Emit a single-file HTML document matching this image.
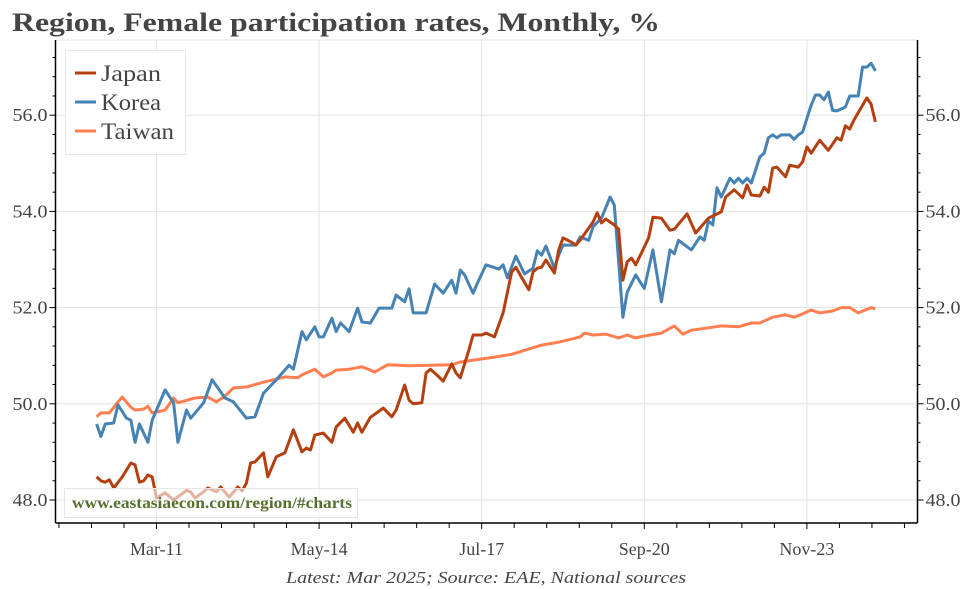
<!DOCTYPE html>
<html><head><meta charset="utf-8"><style>
body{margin:0;background:#fff;}
svg{display:block;font-family:"Liberation Serif",serif;}
</style></head><body>
<svg id="chart" width="972" height="589">
<text x="12" y="31" font-size="26" font-weight="bold" fill="#444" textLength="648" lengthAdjust="spacingAndGlyphs">Region, Female participation rates, Monthly, %</text>
<g id="grid"></g><g id="series"></g><g id="axes"></g>
<g>
<rect x="65.5" y="50.5" width="120" height="104" fill="#fff" stroke="#e8e8e8"/>
<g><line x1="75" y1="73" x2="96" y2="73" stroke="#b5400f" stroke-width="3"/><text x="101" y="81" font-size="23" fill="#444" textLength="60" lengthAdjust="spacingAndGlyphs">Japan</text></g>
<g><line x1="75" y1="102" x2="96" y2="102" stroke="#4682b4" stroke-width="3"/><text x="101" y="110" font-size="23" fill="#444" textLength="60" lengthAdjust="spacingAndGlyphs">Korea</text></g>
<g><line x1="75" y1="131" x2="96" y2="131" stroke="#ff7f50" stroke-width="3"/><text x="101" y="139" font-size="23" fill="#444" textLength="73" lengthAdjust="spacingAndGlyphs">Taiwan</text></g>
</g>
<g>
<rect x="64.5" y="488.5" width="293" height="29" fill="rgba(255,255,255,0.6)" stroke="#e6e6e6"/>
<text x="72" y="508" font-size="15.5" font-weight="bold" fill="#5a6e2e" textLength="280" lengthAdjust="spacingAndGlyphs">www.eastasiaecon.com/region/#charts</text>
</g>
<text x="486" y="583" text-anchor="middle" font-size="17" font-style="italic" fill="#444" textLength="400" lengthAdjust="spacingAndGlyphs">Latest: Mar 2025; Source: EAE, National sources</text>
</svg>
<script>
// months since Jan-2010
const japanMonths=[0,1,2,3,4,6,8,9,10,11,12,13,14,16,18,21,22,23,25,26,28,29,31,33,34,35,36,37,39,40,42,44,46,48,49,50,51,53,55,56,58,60,61,62,64,67,69,70,72,73,74,76,77,78,80,81,83,84,85,87,88,90,91,93,94,95,97,98,99,101,102,103,104,105,107,108,109,111,112,113,116,117,118,119,121,122,123,124,125,126,128,129,130,132,134,135,138,140,143,146,147,149,151,152,153,155,156,157,158,159,161,162,164,165,166,167,169,171,173,174,175,176,177,180,181,182];
const japanValues=[48.48,48.4,48.37,48.42,48.25,48.48,48.77,48.73,48.37,48.4,48.52,48.48,48.04,48.15,48.0,48.2,48.17,48.04,48.17,48.25,48.17,48.27,48.06,48.27,48.19,48.35,48.77,48.79,48.98,48.48,48.9,48.98,49.46,49.0,49.08,49.04,49.35,49.39,49.2,49.52,49.7,49.41,49.6,49.41,49.72,49.91,49.73,49.87,50.39,50.08,50.0,50.02,50.64,50.72,50.56,50.47,50.83,50.64,50.54,51.12,51.43,51.43,51.47,51.39,51.64,51.89,52.74,52.84,52.68,52.37,52.74,52.82,52.84,52.99,52.72,53.2,53.45,53.36,53.3,53.4,53.78,53.97,53.76,53.84,53.72,53.63,52.57,52.95,53.03,52.89,53.26,53.45,53.88,53.86,53.61,53.63,53.95,53.55,53.86,53.99,54.3,54.45,54.28,54.55,54.34,54.32,54.5,54.4,54.9,54.92,54.72,54.96,54.92,55.03,55.34,55.21,55.48,55.27,55.53,55.48,55.78,55.71,55.9,56.36,56.23,55.86];
const koreaMonths=[0,1,2,4,5,7,8,9,10,12,13,16,18,19,21,22,25,27,30,32,35,37,39,42,45,46,48,49,51,52,53,55,56,57,59,61,62,64,66,69,70,72,73,74,77,79,81,83,84,85,86,88,89,91,94,95,96,98,100,102,103,104,105,107,108,109,112,113,115,116,118,120,121,123,124,126,128,130,132,134,135,136,139,141,142,143,144,145,146,148,149,150,151,152,153,154,155,156,157,158,159,160,162,163,164,165,167,168,169,170,171,172,173,175,176,178,179,180,181,182];
const koreaValues=[49.58,49.32,49.58,49.6,49.98,49.7,49.66,49.2,49.58,49.2,49.66,50.29,50.02,49.2,49.87,49.7,50.02,50.5,50.12,50.04,49.7,49.73,50.22,50.5,50.8,50.72,51.5,51.33,51.6,51.39,51.39,51.78,51.5,51.68,51.5,51.99,51.7,51.68,51.99,51.99,52.26,52.12,52.39,51.89,51.89,52.49,52.3,52.57,52.3,52.78,52.68,52.3,52.51,52.89,52.8,52.89,52.62,53.07,52.7,52.82,53.18,53.09,53.28,52.82,53.09,53.3,53.3,53.47,53.4,53.68,53.86,54.3,54.13,51.8,52.32,52.68,52.4,53.2,52.12,53.2,53.12,53.4,53.2,53.47,53.4,53.8,53.72,54.49,54.3,54.69,54.59,54.69,54.59,54.69,54.59,54.86,55.13,55.21,55.53,55.59,55.53,55.59,55.59,55.5,55.59,55.65,56.21,56.42,56.42,56.32,56.48,56.1,56.09,56.17,56.4,56.4,57.0,57.0,57.08,56.92];
const taiwanMonths=[0,1,3,5,6,8,9,11,12,13,16,18,19,23,26,28,30,32,35,39,44,47,48,51,53,55,56,59,62,64,65,68,73,83,85,93,97,104,108,113,114,116,119,122,124,126,128,132,135,137,139,143,146,150,153,155,158,161,163,165,167,169,172,174,176,178,181,182];
const taiwanValues=[49.73,49.81,49.81,50.04,50.14,49.93,49.87,49.89,49.95,49.81,49.87,50.12,50.02,50.12,50.14,50.04,50.16,50.33,50.35,50.45,50.56,50.54,50.6,50.72,50.56,50.64,50.7,50.72,50.77,50.7,50.66,50.81,50.79,50.81,50.87,50.97,51.03,51.22,51.28,51.39,51.47,51.43,51.45,51.37,51.43,51.37,51.41,51.47,51.62,51.45,51.53,51.58,51.62,51.6,51.68,51.68,51.8,51.85,51.8,51.87,51.95,51.89,51.93,52.0,52.0,51.89,52.0,51.97];
const xTickLabels=["Mar-11","May-14","Jul-17","Sep-20","Nov-23"];
const xTickMonths=[14,52,90,128,166];
const yTickValues=[48,50,52,54,56];

const NS="http://www.w3.org/2000/svg";
const L=55.5,R=917.5,T=40,B=523;
function xs(m){return 156.5+(m-14)*(162.6/38);}
function ys(v){return 500-(v-48)*48.1;}
function mk(tag,attrs,parent){const e=document.createElementNS(NS,tag);for(const k in attrs)e.setAttribute(k,attrs[k]);parent.appendChild(e);return e;}
const grid=document.getElementById('grid'),axes=document.getElementById('axes'),ser=document.getElementById('series');
mk('line',{x1:L,y1:T,x2:R,y2:T,stroke:'#e3e3e3'},grid);
yTickValues.forEach(v=>{
  const g=mk('line',{x1:L,x2:R,y1:ys(v),y2:ys(v),stroke:'#e3e3e3'},grid);
  
  
  const t1=mk('text',{x:L-8,y:ys(v)+6,'text-anchor':'end','font-size':'18',fill:'#444',textLength:'35',lengthAdjust:'spacingAndGlyphs'},axes);t1.textContent=v.toFixed(1);
  
  
  const t2=mk('text',{x:R+8,y:ys(v)+6,'text-anchor':'start','font-size':'18',fill:'#444',textLength:'35',lengthAdjust:'spacingAndGlyphs'},axes);t2.textContent=v.toFixed(1);
  
  
});
for(let v=48;v<=57.6;v+=0.4){const y=ys(v);if(y<T-1)break;const major=Math.abs(v-Math.round(v))<0.01&&Math.round(v)%2===0;const len=major?6:3;
  mk('line',{x1:L-len,x2:L,y1:y,y2:y,stroke:'#000'},axes);mk('line',{x1:R,x2:R+len,y1:y,y2:y,stroke:'#000'},axes);}
const step=162.6/5;
for(let x=xs(14)-3*step;x<=R;x+=step){const maj=Math.abs(((x-xs(14))/162.6)-Math.round((x-xs(14))/162.6))<0.01;if(x<L)continue;mk('line',{x1:x,x2:x,y1:B,y2:B+(maj?6:5),stroke:'#000'},axes);}
xTickMonths.forEach((m,i)=>{
  const g=mk('line',{x1:xs(m),x2:xs(m),y1:T,y2:B,stroke:'#e3e3e3'},grid);
  
  
  const t=mk('text',{x:xs(m),y:555,'text-anchor':'middle','font-size':'18',fill:'#444'},axes);t.textContent=xTickLabels[i];
  
  
});
mk('line',{x1:L,x2:L,y1:T,y2:B,stroke:'#000','stroke-width':1.5},axes);
mk('line',{x1:R,x2:R,y1:T,y2:B,stroke:'#000','stroke-width':1.5},axes);
mk('line',{x1:L,x2:R,y1:B,y2:B,stroke:'#000','stroke-width':1.5},axes);
function line(ms,vs,color,name){const d=ms.map((m,i)=>(i?'L':'M')+xs(m).toFixed(1)+','+ys(vs[i]).toFixed(1)).join('');
  const p=mk('path',{d:d,fill:'none',stroke:color,'stroke-width':3,'stroke-linejoin':'round'},ser);
  
  }
line(taiwanMonths,taiwanValues,'#ff7f50','taiwan-line');
line(koreaMonths,koreaValues,'#4682b4','korea-line');
line(japanMonths,japanValues,'#b5400f','japan-line');
</script>
</body></html>
